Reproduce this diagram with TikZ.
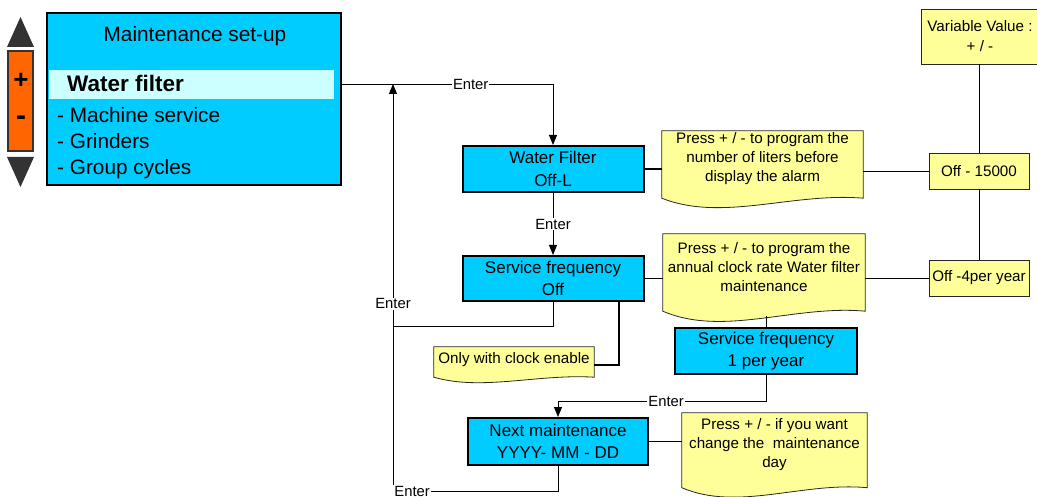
\documentclass[tikz,border=0pt]{standalone}
\usepackage{fontspec}
\setmainfont{Liberation Sans}
\usetikzlibrary{arrows.meta,calc,backgrounds}
\definecolor{cyanbox}{HTML}{00CCFF}
\definecolor{hilite}{HTML}{CCFFFF}
\definecolor{noteyellow}{HTML}{FFFF99}
\definecolor{ctlorange}{HTML}{FF6600}
\definecolor{ctldark}{HTML}{333333}
% #1 node name, #2 side extension below south, #3 wave amplitude
\newcommand\docshape[3]{%
  \path[notebox] let \p1=(#1.south west), \p2=(#1.north east), \n1={\x2-\x1} in
    (\x1,\y2) -- (\x2,\y2) -- (\x2,\y1-#2pt)
    .. controls (\x2-0.35*\n1,\y1-#2pt+0.5*#3pt) and (\x1+0.3*\n1,\y1-#2pt-2*#3pt) ..
    (\x1,\y1-#2pt) -- cycle;}
\begin{document}
\begin{tikzpicture}[x=1pt,y=-1pt,
  bluebox/.style={draw, line width=2pt, fill=cyanbox, align=center, inner sep=0pt,
    font=\fontsize{17}{22.5}\selectfont},
  notetext/.style={align=center, inner sep=0pt, font=\fontsize{15.2}{19}\selectfont},
  notebox/.style={draw=black!85, line width=0.8pt, fill=noteyellow},
  valbox/.style={draw=black!85, line width=0.8pt, fill=noteyellow, align=center,
    inner sep=0pt, font=\fontsize{15.2}{20}\selectfont},
  enterlbl/.style={fill=white, inner sep=1pt, font=\fontsize{14.8}{16}\selectfont},
  conn/.style={line width=0.9pt},
  thickconn/.style={line width=2pt},
  arr/.style={conn, -{Triangle[length=10pt,width=8pt]}},
  listtext/.style={anchor=base west, inner sep=0pt, font=\fontsize{20.8}{24}\selectfont}
]
\useasboundingbox (0,0) rectangle (1037,497);

% left control
\fill[ctldark] (7,47) -- (34,47) -- (20.5,17) -- cycle;
\fill[ctldark] (7,157) -- (34,157) -- (20.5,187) -- cycle;
\node[draw=ctldark, line width=1.5pt, fill=ctlorange, minimum width=25pt,
  minimum height=100pt, inner sep=0pt] (ctl) at (20.5,101) {};
\node[inner sep=0pt, font=\bfseries\fontsize{26}{26}\selectfont] (plus) at (21,81) {+};
\node[inner sep=0pt, font=\bfseries\fontsize{30}{30}\selectfont] (minus) at (21,121) {-};

% main menu box
\node[draw, line width=2pt, fill=cyanbox, minimum width=294pt, minimum height=172pt,
  inner sep=0pt] (main) at (194,99) {};
\node[fill=hilite, minimum width=285pt, minimum height=29pt, inner sep=0pt] (hl) at (191.5,84.5) {};
\node[anchor=base, inner sep=0pt, font=\fontsize{20.8}{24}\selectfont] (title) at (195,42) {Maintenance set-up};
\node[listtext, font=\bfseries\fontsize{22.5}{24}\selectfont] (wfitem) at (67,92) {Water filter};
\node[listtext] (ms) at (57,123) {- Machine service};
\node[listtext] (gr) at (57,149) {- Grinders};
\node[listtext] (gc) at (57,175) {- Group cycles};

% blue boxes
\node[bluebox, minimum width=181pt, minimum height=46pt] (wf) at (553,169) {Water Filter\\Off-L};
\node[bluebox, minimum width=181pt, minimum height=45pt] (sf) at (553,278.5) {Service frequency\\Off};
\node[bluebox, minimum width=182pt, minimum height=46pt] (sf1) at (766,351) {Service frequency\\1 per year};
\node[bluebox, minimum width=180pt, minimum height=47pt] (nm) at (558,441.5) {Next maintenance\\YYYY- MM - DD};

% notes
\node[notetext, minimum width=201pt, minimum height=56pt] (n1) at (762.5,159)
  {Press + / - to program the\\number of liters before\\display the alarm};
\node[notetext, minimum width=202pt, minimum height=66pt] (n2) at (764,267)
  {Press + / - to program the\\annual clock rate Water filter\\maintenance};
\node[notetext, minimum width=160pt, minimum height=26pt] (n3) at (514,360)
  {Only with clock enable};
\node[notetext, minimum width=185pt, minimum height=64pt] (n4) at (774.5,445)
  {Press + / - if you want\\change the\ \ maintenance\\day};
\begin{scope}[on background layer]
  \docshape{n1}{11}{12}
  \docshape{n2}{11}{13}
  \docshape{n3}{4}{7}
  \docshape{n4}{10.5}{12}
\end{scope}

% value boxes
\node[valbox, minimum width=118pt, minimum height=55pt] (var) at (980,36.5) {Variable Value :\\+ / -};
\node[valbox, minimum width=100pt, minimum height=36pt] (off15) at (979,171) {Off - 15000};
\node[valbox, minimum width=100pt, minimum height=36pt] (off4) at (979,278) {Off -4per year};

% helper coordinates
\coordinate (j1) at (393,84);
\coordinate (j2) at (393,326);
\coordinate (j3) at (393,491);
\coordinate (c619) at (619,365);
\coordinate (c401) at (0,401);
\coordinate (n2b) at (766,316);

% connectors
\draw[arr] (main.east |- hl) -- node[enterlbl,pos=0.61]{Enter} (wf.north |- hl) -- (wf.north);
\draw[arr] (wf.south) -- node[enterlbl]{Enter} (sf.north);
\draw[conn] (sf.south) |- (j2);
\draw[arr] (j3) -- node[enterlbl,pos=0.46]{Enter} (j1);
\draw[conn] (nm.south) |- (j3) node[enterlbl,anchor=west]{Enter};
\draw[thickconn] (sf.south -| c619) -- (c619) -- (n3.east |- c619);
\draw[thickconn] (wf.east) -- (wf.east -| n1.west);
\draw[conn] (off15.west -| n1.east) -- (off15.west);
\draw[conn] (sf.east) -- (sf.east -| n2.west);
\draw[conn] (off4.west -| n2.east) -- (off4.west);
\draw[conn] (n2b) -- (sf1.north);
\draw[arr] (sf1.south) -- (sf1.south |- c401) -- node[enterlbl,pos=0.48]{Enter} (nm.north |- c401) -- (nm.north);
\draw[conn] (nm.east) -- (nm.east -| n4.west);
\draw[conn] (off15.north |- var.south) -- (off15.north);
\draw[conn] (off15.south) -- (off4.north);
\end{tikzpicture}
\end{document}
